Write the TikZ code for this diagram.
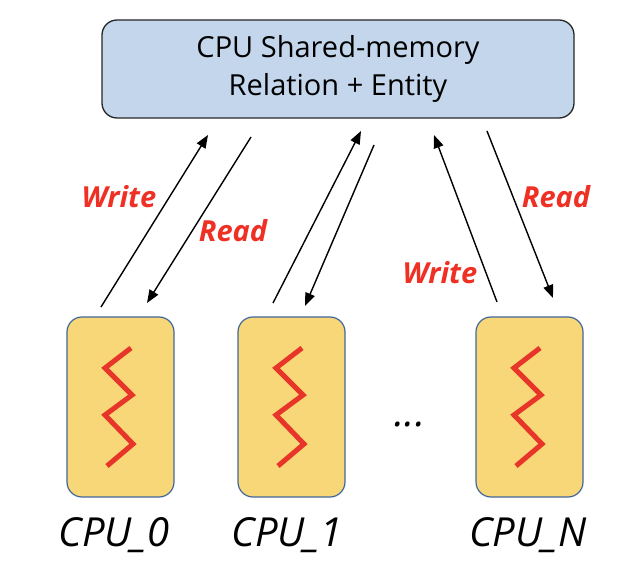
\documentclass[tikz,border=0pt]{standalone}
\usepackage{fontspec}
\setmainfont{Open Sans}
\usetikzlibrary{arrows.meta}
\definecolor{memblue}{HTML}{C3D6EC}
\definecolor{cpuyellow}{HTML}{F8D778}
\definecolor{cpuedge}{HTML}{41689C}
\definecolor{zigred}{HTML}{E8352A}
\definecolor{lblred}{HTML}{EE3124}
\begin{document}
\begin{tikzpicture}[x=1pt,y=-1pt,
  membox/.style={draw=black!85,line width=1.3pt,fill=memblue,rounded corners=15pt,minimum width=472pt,minimum height=98pt,inner sep=0pt,align=center,font=\fontsize{29}{38}\selectfont},
  cpubox/.style={draw=cpuedge,line width=1.2pt,fill=cpuyellow,rounded corners=15pt,minimum width=107pt,minimum height=180pt,inner sep=0pt},
  zig/.style={draw=zigred,line width=5pt},
  flow/.style={draw=black,line width=1.4pt,-{Triangle[length=13pt,width=10pt]}},
  rwlabel/.style={text=lblred,font=\fontsize{29}{34}\selectfont\bfseries\itshape,inner sep=0pt},
  cpulabel/.style={font=\fontsize{40}{46}\selectfont\itshape,inner sep=0pt}]
\useasboundingbox (0,0) rectangle (622,588);
\node[membox] (mem) at (338,69) {CPU Shared-memory\\Relation + Entity};
\node[cpubox] (c0) at (120.5,407) {};
\node[cpubox] (c1) at (291.5,407) {};
\node[cpubox] (cn) at (529.5,407) {};
% zigzags
\foreach \dx in {0,171,409}{
  \begin{scope}[xshift=\dx pt]
  \draw[zig] (131,348) -- (105,368) -- (132,395) -- (105,415) -- (133,444) -- (107,466);
  \end{scope}
}
% arrow end coordinates
\coordinate (w0s) at (101,307); \coordinate (w0e) at (208,135);
\coordinate (r0s) at (251,137); \coordinate (r0e) at (147,303);
\coordinate (w1s) at (273,303); \coordinate (w1e) at (361,131);
\coordinate (r1s) at (374,145); \coordinate (r1e) at (305,306);
\coordinate (wns) at (497,302); \coordinate (wne) at (434,135);
\coordinate (rns) at (487,131); \coordinate (rne) at (553,298);
\draw[flow] (w0s) -- (w0e);
\draw[flow] (r0s) -- (r0e);
\draw[flow] (w1s) -- (w1e);
\draw[flow] (r1s) -- (r1e);
\draw[flow] (wns) -- (wne);
\draw[flow] (rns) -- (rne);
\node[rwlabel] (lw0) at (119,197) {Write};
\node[rwlabel] (lr0) at (233,231) {Read};
\node[rwlabel] (lwn) at (440,273) {Write};
\node[rwlabel] (lrn) at (556,197) {Read};
\node[font=\fontsize{40}{46}\selectfont\itshape] (dots) at (410,424) {...};
\node[cpulabel] (t0) at (114,535) {CPU\_0};
\node[cpulabel] (t1) at (287,535) {CPU\_1};
\node[cpulabel] (tn) at (528,535) {CPU\_N};
\end{tikzpicture}
\end{document}
